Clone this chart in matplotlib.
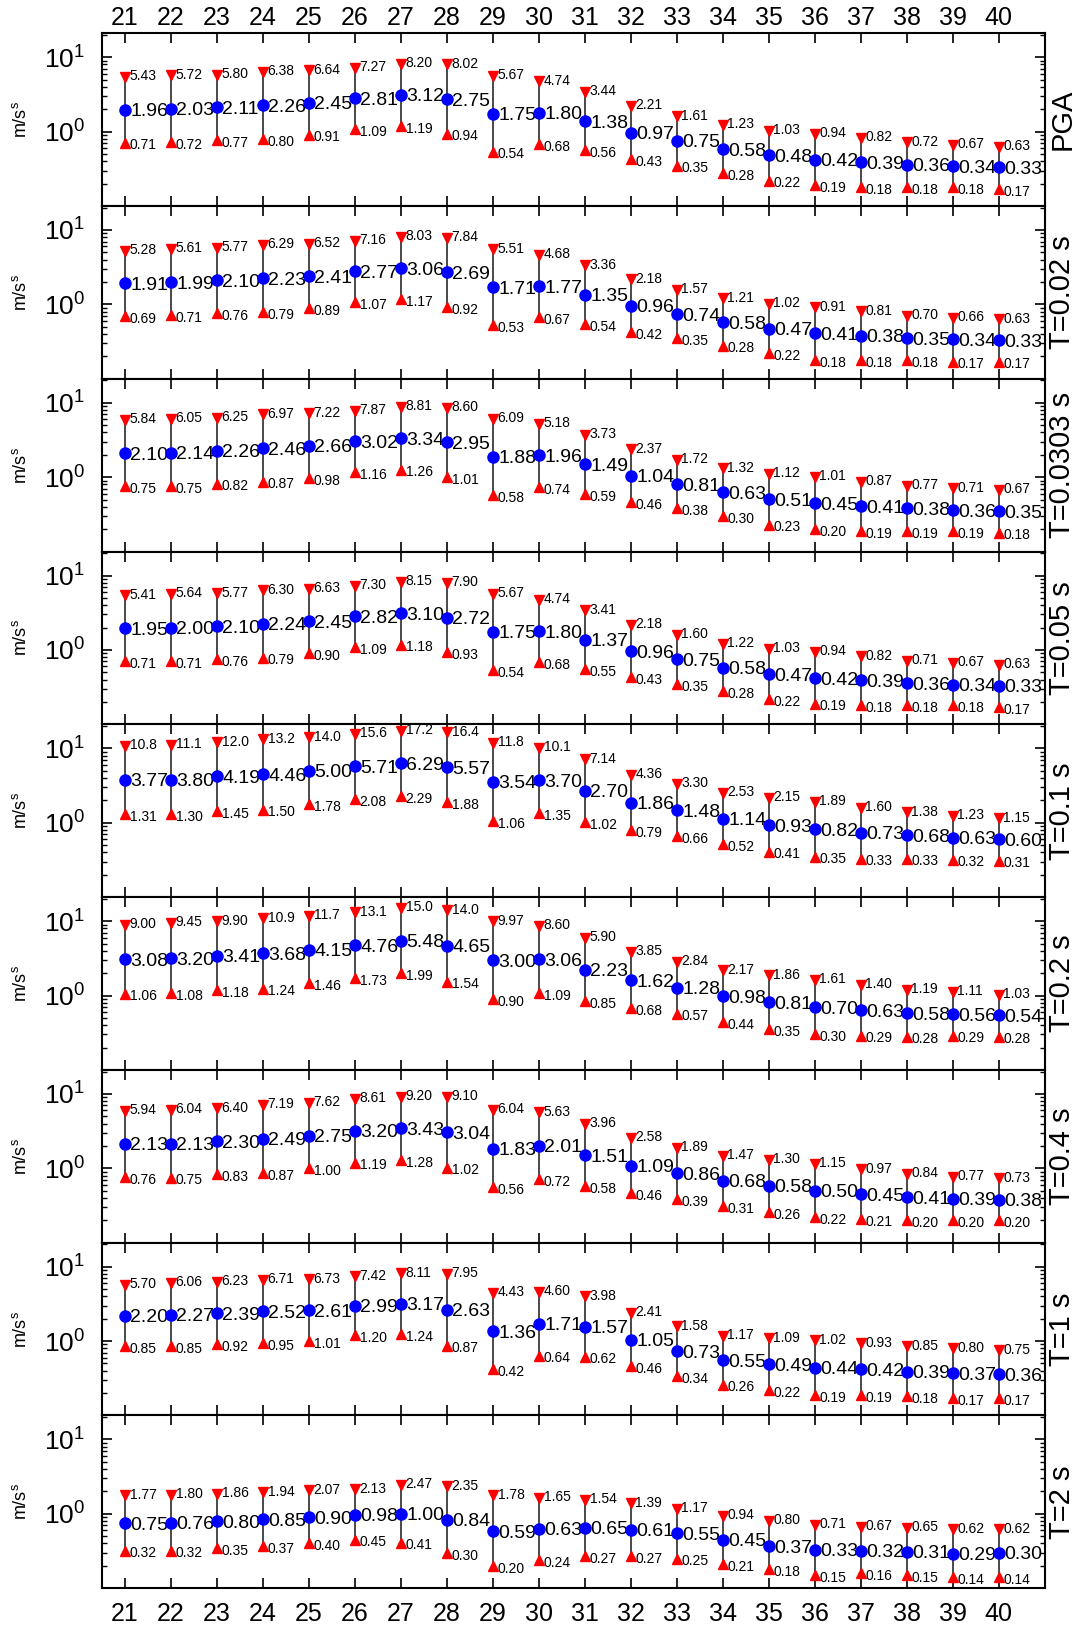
import matplotlib
matplotlib.use("Agg")
import matplotlib.pyplot as plt
from matplotlib.ticker import FixedLocator, NullFormatter, FixedFormatter

plt.rcParams['font.family'] = ['Liberation Sans', 'DejaVu Sans']
plt.rcParams['mathtext.fontset'] = 'custom'
plt.rcParams['mathtext.rm'] = 'Liberation Sans'
plt.rcParams['mathtext.it'] = 'Liberation Sans:italic'

stations = list(range(21, 41))
periods = ["PGA", "T=0.02 s", "T=0.0303 s", "T=0.05 s", "T=0.1 s",
           "T=0.2 s", "T=0.4 s", "T=1 s", "T=2 s"]

median_pga = [1.96, 2.03, 2.11, 2.26, 2.45, 2.81, 3.12, 2.75, 1.75, 1.80, 1.38, 0.97, 0.75, 0.58, 0.48, 0.42, 0.39, 0.36, 0.34, 0.33]
upper_pga = [5.43, 5.72, 5.80, 6.38, 6.64, 7.27, 8.20, 8.02, 5.67, 4.74, 3.44, 2.21, 1.61, 1.23, 1.03, 0.94, 0.82, 0.72, 0.67, 0.63]
lower_pga = [0.71, 0.72, 0.77, 0.80, 0.91, 1.09, 1.19, 0.94, 0.54, 0.68, 0.56, 0.43, 0.35, 0.28, 0.22, 0.19, 0.18, 0.18, 0.18, 0.17]

median_t002 = [1.91, 1.99, 2.10, 2.23, 2.41, 2.77, 3.06, 2.69, 1.71, 1.77, 1.35, 0.96, 0.74, 0.58, 0.47, 0.41, 0.38, 0.35, 0.34, 0.33]
upper_t002 = [5.28, 5.61, 5.77, 6.29, 6.52, 7.16, 8.03, 7.84, 5.51, 4.68, 3.36, 2.18, 1.57, 1.21, 1.02, 0.91, 0.81, 0.70, 0.66, 0.63]
lower_t002 = [0.69, 0.71, 0.76, 0.79, 0.89, 1.07, 1.17, 0.92, 0.53, 0.67, 0.54, 0.42, 0.35, 0.28, 0.22, 0.18, 0.18, 0.18, 0.17, 0.17]

median_t0303 = [2.10, 2.14, 2.26, 2.46, 2.66, 3.02, 3.34, 2.95, 1.88, 1.96, 1.49, 1.04, 0.81, 0.63, 0.51, 0.45, 0.41, 0.38, 0.36, 0.35]
upper_t0303 = [5.84, 6.05, 6.25, 6.97, 7.22, 7.87, 8.81, 8.60, 6.09, 5.18, 3.73, 2.37, 1.72, 1.32, 1.12, 1.01, 0.87, 0.77, 0.71, 0.67]
lower_t0303 = [0.75, 0.75, 0.82, 0.87, 0.98, 1.16, 1.26, 1.01, 0.58, 0.74, 0.59, 0.46, 0.38, 0.30, 0.23, 0.20, 0.19, 0.19, 0.19, 0.18]

median_t005 = [1.95, 2.00, 2.10, 2.24, 2.45, 2.82, 3.10, 2.72, 1.75, 1.80, 1.37, 0.96, 0.75, 0.58, 0.47, 0.42, 0.39, 0.36, 0.34, 0.33]
upper_t005 = [5.41, 5.64, 5.77, 6.30, 6.63, 7.30, 8.15, 7.90, 5.67, 4.74, 3.41, 2.18, 1.60, 1.22, 1.03, 0.94, 0.82, 0.71, 0.67, 0.63]
lower_t005 = [0.71, 0.71, 0.76, 0.79, 0.90, 1.09, 1.18, 0.93, 0.54, 0.68, 0.55, 0.43, 0.35, 0.28, 0.22, 0.19, 0.18, 0.18, 0.18, 0.17]

median_t01 = [3.77, 3.80, 4.19, 4.46, 5.00, 5.71, 6.29, 5.57, 3.54, 3.70, 2.70, 1.86, 1.48, 1.14, 0.93, 0.82, 0.73, 0.68, 0.63, 0.60]
upper_t01 = [10.8, 11.1, 12.0, 13.2, 14.0, 15.6, 17.2, 16.4, 11.8, 10.1, 7.14, 4.36, 3.30, 2.53, 2.15, 1.89, 1.60, 1.38, 1.23, 1.15]
lower_t01 = [1.31, 1.30, 1.45, 1.50, 1.78, 2.08, 2.29, 1.88, 1.06, 1.35, 1.02, 0.79, 0.66, 0.52, 0.41, 0.35, 0.33, 0.33, 0.32, 0.31]

median_t02 = [3.08, 3.20, 3.41, 3.68, 4.15, 4.76, 5.48, 4.65, 3.00, 3.06, 2.23, 1.62, 1.28, 0.98, 0.81, 0.70, 0.63, 0.58, 0.56, 0.54]
upper_t02 = [9.00, 9.45, 9.90, 10.9, 11.7, 13.1, 15.0, 14.0, 9.97, 8.60, 5.90, 3.85, 2.84, 2.17, 1.86, 1.61, 1.40, 1.19, 1.11, 1.03]
lower_t02 = [1.06, 1.08, 1.18, 1.24, 1.46, 1.73, 1.99, 1.54, 0.90, 1.09, 0.85, 0.68, 0.57, 0.44, 0.35, 0.30, 0.29, 0.28, 0.29, 0.28]

median_t04 = [2.13, 2.13, 2.30, 2.49, 2.75, 3.20, 3.43, 3.04, 1.83, 2.01, 1.51, 1.09, 0.86, 0.68, 0.58, 0.50, 0.45, 0.41, 0.39, 0.38]
upper_t04 = [5.94, 6.04, 6.40, 7.19, 7.62, 8.61, 9.20, 9.10, 6.04, 5.63, 3.96, 2.58, 1.89, 1.47, 1.30, 1.15, 0.97, 0.84, 0.77, 0.73]
lower_t04 = [0.76, 0.75, 0.83, 0.87, 1.00, 1.19, 1.28, 1.02, 0.56, 0.72, 0.58, 0.46, 0.39, 0.31, 0.26, 0.22, 0.21, 0.20, 0.20, 0.20]

median_t1 = [2.20, 2.27, 2.39, 2.52, 2.61, 2.99, 3.17, 2.63, 1.36, 1.71, 1.57, 1.05, 0.73, 0.55, 0.49, 0.44, 0.42, 0.39, 0.37, 0.36]
upper_t1 = [5.70, 6.06, 6.23, 6.71, 6.73, 7.42, 8.11, 7.95, 4.43, 4.60, 3.98, 2.41, 1.58, 1.17, 1.09, 1.02, 0.93, 0.85, 0.80, 0.75]
lower_t1 = [0.85, 0.85, 0.92, 0.95, 1.01, 1.20, 1.24, 0.87, 0.42, 0.64, 0.62, 0.46, 0.34, 0.26, 0.22, 0.19, 0.19, 0.18, 0.17, 0.17]

median_t2 = [0.75, 0.76, 0.80, 0.85, 0.90, 0.98, 1.00, 0.84, 0.59, 0.63, 0.65, 0.61, 0.55, 0.45, 0.37, 0.33, 0.32, 0.31, 0.29, 0.30]
upper_t2 = [1.77, 1.80, 1.86, 1.94, 2.07, 2.13, 2.47, 2.35, 1.78, 1.65, 1.54, 1.39, 1.17, 0.94, 0.80, 0.71, 0.67, 0.65, 0.62, 0.62]
lower_t2 = [0.32, 0.32, 0.35, 0.37, 0.40, 0.45, 0.41, 0.30, 0.20, 0.24, 0.27, 0.27, 0.25, 0.21, 0.18, 0.15, 0.16, 0.15, 0.14, 0.14]

medians = [median_pga, median_t002, median_t0303, median_t005, median_t01,
           median_t02, median_t04, median_t1, median_t2]
uppers = [upper_pga, upper_t002, upper_t0303, upper_t005, upper_t01,
          upper_t02, upper_t04, upper_t1, upper_t2]
lowers = [lower_pga, lower_t002, lower_t0303, lower_t005, lower_t01,
          lower_t02, lower_t04, lower_t1, lower_t2]


def fmt(v):
    return f"{v:.1f}" if v >= 10 else f"{v:.2f}"


fig, axes = plt.subplots(len(periods), 1, figsize=(10.85, 16.29), dpi=100, sharex=True)
fig.subplots_adjust(left=0.0938, right=0.9627, top=0.9796, bottom=0.025, hspace=0)

minor_locs = [m * 10.0 ** e for e in (-1, 0, 1) for m in range(2, 10)]

for i, ax in enumerate(axes):
    med, up, lo = medians[i], uppers[i], lowers[i]
    ax.set_yscale('log')
    ax.vlines(stations, lo, up, colors='#2a2a2a', linewidth=1.2, zorder=3)
    ax.plot(stations, up, linestyle='none', marker='v', color='red', markersize=7, zorder=4)
    ax.plot(stations, lo, linestyle='none', marker='^', color='red', markersize=7, zorder=4)
    ax.plot(stations, med, linestyle='none', marker='o', color='blue', markersize=8, zorder=5)
    for x, m, u, l in zip(stations, med, up, lo):
        ax.annotate(fmt(m), (x, m), xytext=(4, -1.5), textcoords='offset points',
                    ha='left', va='center', fontsize=14, zorder=2)
        ax.annotate(fmt(u), (x, u), xytext=(3.5, 0.5), textcoords='offset points',
                    ha='left', va='center', fontsize=10, zorder=2)
        ax.annotate(fmt(l), (x, l), xytext=(3.5, -2), textcoords='offset points',
                    ha='left', va='center', fontsize=10, zorder=2)

    ax.set_xlim(20.5, 41)
    ax.set_ylim(0.1, 21)
    ax.set_xticks(stations)
    ax.yaxis.set_major_locator(FixedLocator([1, 10]))
    ax.yaxis.set_major_formatter(FixedFormatter([r'$\mathregular{10^{0}}$', r'$\mathregular{10^{1}}$']))
    ax.yaxis.set_minor_locator(FixedLocator(minor_locs))
    ax.yaxis.set_minor_formatter(NullFormatter())
    ax.tick_params(axis='both', which='both', direction='in', top=True, right=True)
    ax.tick_params(axis='both', which='major', length=7, width=1.2)
    ax.tick_params(axis='y', which='minor', length=3.8, width=1.0)
    ax.tick_params(axis='y', which='major', labelsize=19, pad=12)
    ax.tick_params(axis='x', which='major', labelsize=18,
                   labeltop=(i == 0), labelbottom=(i == len(periods) - 1))
    if i == 0:
        ax.tick_params(axis='x', which='major', pad=2.5)
    if i == len(periods) - 1:
        ax.tick_params(axis='x', which='major', pad=10)
    for sp in ax.spines.values():
        sp.set_linewidth(1.5)

    ax.text(-0.086, 0.5, r'm/s$\mathregular{^{s}}$', transform=ax.transAxes,
            rotation=90, ha='center', va='center', fontsize=13)
    ax.text(1.019, 0.5, periods[i], transform=ax.transAxes,
            rotation=90, ha='center', va='center', fontsize=21)

fig.savefig('out.png', dpi=100)
